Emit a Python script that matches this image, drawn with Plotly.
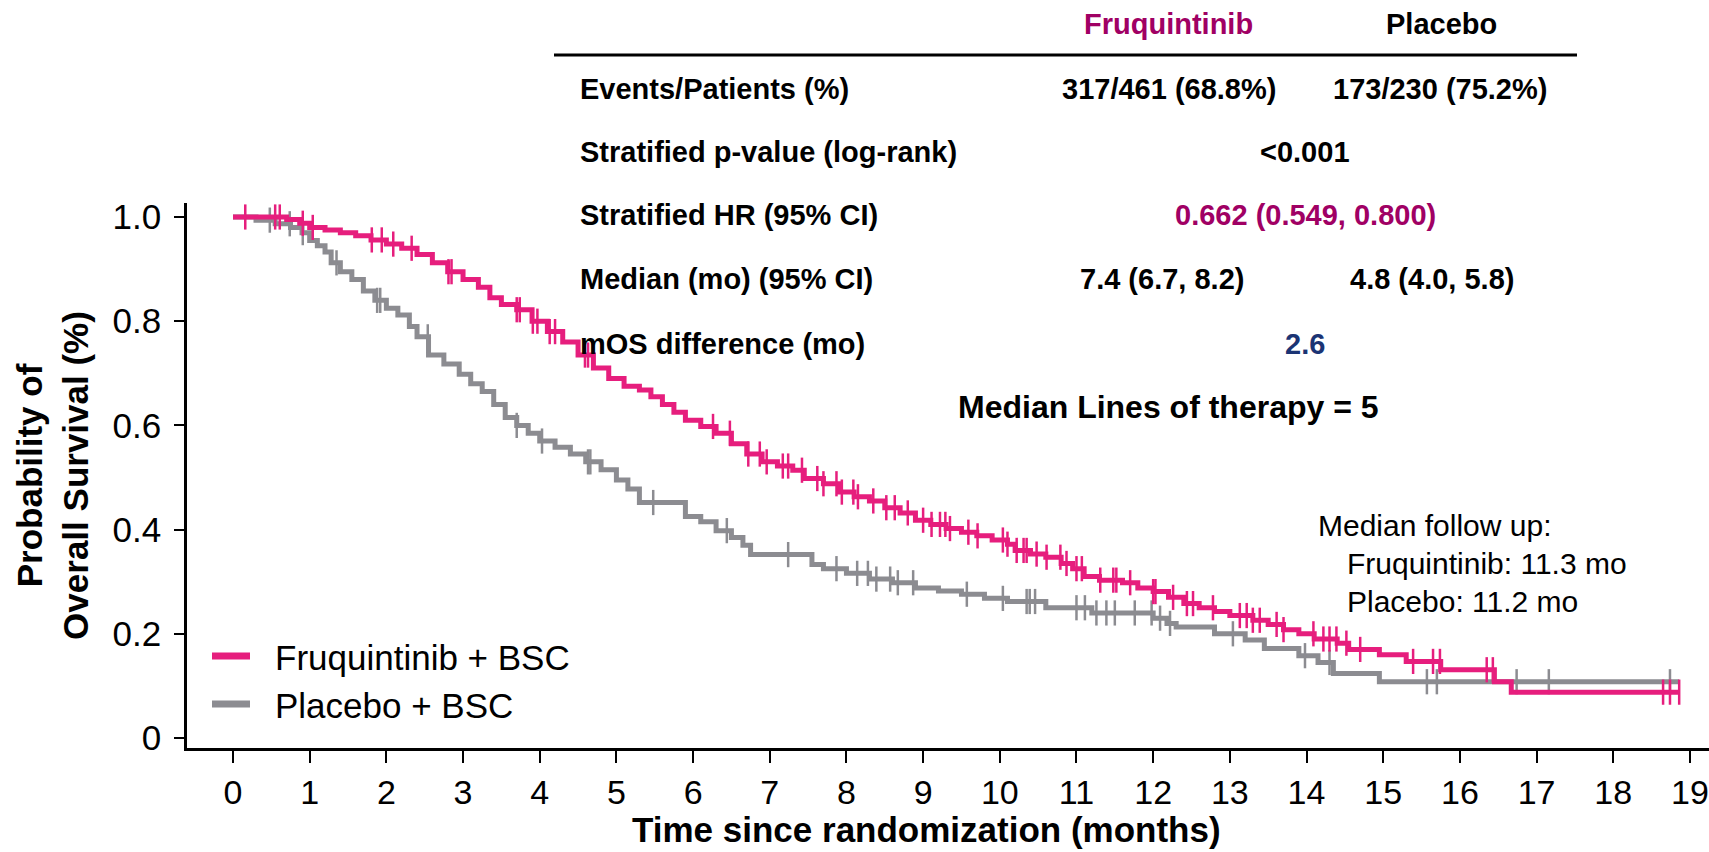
import numpy as np
import plotly.graph_objects as go

# ---------------- data ----------------
fru_t = [0, 0.7, 0.87, 1.0, 1.2, 1.4, 1.6, 1.8, 2.0, 2.2, 2.4, 2.6, 2.8, 3.0, 3.2, 3.35, 3.5, 3.7,
         3.9, 4.1, 4.3, 4.5, 4.7, 4.9, 5.1, 5.3, 5.45, 5.6, 5.75, 5.9, 6.1, 6.3, 6.5, 6.7, 6.9, 7.1,
         7.3, 7.45, 7.7, 7.9, 8.1, 8.3, 8.5, 8.7, 8.9, 9.1, 9.3, 9.5, 9.7, 9.9, 10.1, 10.2, 10.4,
         10.6, 10.8, 10.95, 11.1, 11.3, 11.6, 11.8, 12.0, 12.2, 12.4, 12.6, 12.8, 13.0, 13.3, 13.5,
         13.7, 13.9, 14.1, 14.4, 14.55, 14.95, 15.3, 15.75, 16.45, 16.67]
fru_s = [1.0, 0.995, 0.988, 0.98, 0.975, 0.97, 0.964, 0.956, 0.948, 0.94, 0.928, 0.912, 0.895,
         0.88, 0.865, 0.845, 0.832, 0.822, 0.80, 0.78, 0.76, 0.735, 0.71, 0.69, 0.675, 0.668, 0.655,
         0.64, 0.625, 0.61, 0.598, 0.585, 0.565, 0.545, 0.53, 0.522, 0.514, 0.498, 0.488, 0.472,
         0.463, 0.455, 0.442, 0.432, 0.418, 0.41, 0.402, 0.395, 0.388, 0.38, 0.372, 0.36, 0.353,
         0.347, 0.335, 0.325, 0.31, 0.303, 0.298, 0.288, 0.281, 0.27, 0.258, 0.25, 0.243, 0.235,
         0.226, 0.218, 0.208, 0.2, 0.19, 0.182, 0.17, 0.16, 0.147, 0.131, 0.108, 0.088]
fru_end = 18.86
fru_cens = [0.16, 0.55, 0.61, 0.91, 1.04, 1.81, 1.94, 2.09, 2.33, 2.81, 2.85, 3.7, 3.74, 3.91, 3.97,
            4.13, 4.2, 4.59, 4.63, 6.26, 6.48, 6.72, 6.87, 6.96, 7.17, 7.24, 7.42, 7.62, 7.7, 7.87,
            7.94, 8.09, 8.15, 8.35, 8.52, 8.63, 8.8, 9.0, 9.11, 9.22, 9.29, 9.35, 9.59, 9.71, 10.04,
            10.1, 10.22, 10.31, 10.35, 10.48, 10.61, 10.79, 10.87, 11.0, 11.07, 11.31, 11.48, 11.52,
            11.7, 12.0, 12.03, 12.26, 12.44, 12.52, 12.78, 13.13, 13.22, 13.3, 13.39, 13.61, 13.7,
            14.09, 14.22, 14.3, 14.39, 14.52, 14.7, 15.39, 15.65, 15.74, 16.35, 16.43, 18.65, 18.74,
            18.86]

pla_t = [0, 0.3, 0.55, 0.75, 0.9, 1.0, 1.1, 1.2, 1.28, 1.4, 1.55, 1.7, 1.85, 2.0, 2.15, 2.3, 2.4,
         2.55, 2.75, 2.95, 3.1, 3.25, 3.4, 3.55, 3.7, 3.85, 4.0, 4.2, 4.4, 4.6, 4.8, 5.0, 5.15, 5.3,
         5.9, 6.1, 6.3, 6.5, 6.65, 6.75, 7.55, 7.7, 8.0, 8.3, 8.6, 8.9, 9.2, 9.5, 9.8, 10.1, 10.6,
         11.2, 12.0, 12.18, 12.3, 12.8, 13.2, 13.45, 13.9, 14.15, 14.35, 14.95]
pla_s = [1.0, 0.994, 0.987, 0.98, 0.97, 0.955, 0.945, 0.933, 0.912, 0.895, 0.88, 0.858, 0.84,
         0.825, 0.812, 0.79, 0.77, 0.735, 0.718, 0.698, 0.68, 0.665, 0.64, 0.615, 0.6, 0.585, 0.57,
         0.558, 0.545, 0.53, 0.515, 0.495, 0.478, 0.452, 0.425, 0.415, 0.398, 0.385, 0.37, 0.352,
         0.333, 0.325, 0.316, 0.305, 0.298, 0.288, 0.282, 0.276, 0.268, 0.262, 0.25, 0.24, 0.23,
         0.22, 0.213, 0.2, 0.188, 0.172, 0.158, 0.145, 0.124, 0.108]
pla_end = 18.86
pla_cens = [0.48, 0.74, 0.91, 1.35, 1.88, 1.92, 2.54, 3.7, 4.03, 4.63, 4.66, 5.48, 6.44, 7.24,
            7.87, 8.14, 8.28, 8.39, 8.57, 8.67, 8.87, 9.57, 10.04, 10.35, 10.39, 10.46, 11.0, 11.11,
            11.26, 11.39, 11.5, 11.76, 11.98, 12.09, 12.22, 13.04, 13.98, 14.3, 15.57, 15.7, 16.74,
            17.16, 18.74]

x_ticks = list(range(0, 20))
y_ticks = [0, 0.2, 0.4, 0.6, 0.8, 1.0]
y_ticktext = ["0", "0.2", "0.4", "0.6", "0.8", "1.0"]

series_names = ["Fruquintinib + BSC", "Placebo + BSC"]

table_labels = ["Events/Patients (%)", "Stratified p-value (log-rank)", "Stratified HR (95% CI)",
                "Median (mo) (95% CI)", "mOS difference (mo)"]
table_fru = ["317/461 (68.8%)", None, None, "7.4 (6.7, 8.2)", None]
table_pla = ["173/230 (75.2%)", None, None, "4.8 (4.0, 5.8)", None]
table_both = [None, "<0.001", "0.662 (0.549, 0.800)", None, "2.6"]
table_header = ["Fruquintinib", "Placebo"]
lines_note = "Median Lines of therapy = 5"
follow_up = ["Median follow up:", "Fruquintinib: 11.3 mo", "Placebo: 11.2 mo"]
x_title = "Time since randomization (months)"
y_title = "Probability of<br>Overall Survival (%)"

# ---------------- style ----------------
PINK = "#E61E7D"
GRAY = "#8C8C91"
PURPLE = "#A00064"
NAVY = "#1B3474"
FONT = "Arial, Liberation Sans, sans-serif"

W, H = 1709, 852
L, R, T, B = 187, 0, 203, 104
PW, PH = W - L - R, H - T - B


def px_x(X):
    return (X - L) / PW


def px_y(Y):
    return (H - B - Y) / PH


def surv_at(t, s, c):
    t = np.asarray(t)
    s = np.asarray(s)
    idx = np.searchsorted(t, np.asarray(c), side="right") - 1
    return s[idx]


fig = go.Figure()
for t, s, end, cens, col, name in [
    (pla_t, pla_s, pla_end, pla_cens, GRAY, series_names[1]),
    (fru_t, fru_s, fru_end, fru_cens, PINK, series_names[0]),
]:
    fig.add_trace(go.Scatter(x=list(t) + [end], y=list(s) + [s[-1]], mode="lines",
                             line=dict(color=col, width=5, shape="hv"), name=name,
                             showlegend=False, hoverinfo="skip"))
    fig.add_trace(go.Scatter(x=cens, y=surv_at(t, s, cens), mode="markers",
                             marker=dict(symbol="line-ns", size=18,
                                         line=dict(color=col, width=2.5)),
                             showlegend=False, hoverinfo="skip"))

ann = []
shapes = []
TS = 29  # table font size

# table header
hdr_y = 24
ann.append(dict(x=px_x(1168), y=px_y(hdr_y), text="<b>%s</b>" % table_header[0],
                font=dict(size=TS, color=PURPLE, family=FONT)))
ann.append(dict(x=px_x(1441), y=px_y(hdr_y), text="<b>%s</b>" % table_header[1],
                font=dict(size=TS, color="black", family=FONT)))
shapes.append(dict(type="line", xref="paper", yref="paper", x0=px_x(554), x1=px_x(1577),
                   y0=px_y(55), y1=px_y(55), line=dict(color="black", width=3)))

row_y = [89, 152, 215, 279, 344]
fru_x = [1169, None, None, 1162, None]
pla_x = [1440, None, None, 1432, None]
both_col = [None, "black", PURPLE, None, NAVY]
for i, lab in enumerate(table_labels):
    ann.append(dict(x=px_x(578), y=px_y(row_y[i]), text="<b>%s</b>" % lab, xanchor="left",
                    font=dict(size=TS, color="black", family=FONT)))
    if table_fru[i]:
        ann.append(dict(x=px_x(fru_x[i]), y=px_y(row_y[i]), text="<b>%s</b>" % table_fru[i],
                        font=dict(size=TS, color="black", family=FONT)))
    if table_pla[i]:
        ann.append(dict(x=px_x(pla_x[i]), y=px_y(row_y[i]), text="<b>%s</b>" % table_pla[i],
                        font=dict(size=TS, color="black", family=FONT)))
    if table_both[i]:
        ann.append(dict(x=px_x(1305), y=px_y(row_y[i]), text="<b>%s</b>" % table_both[i],
                        font=dict(size=TS, color=both_col[i], family=FONT)))

ann.append(dict(x=px_x(1168), y=px_y(407), text="<b>%s</b>" % lines_note,
                font=dict(size=32, color="black", family=FONT)))

fu_x = [1316, 1345, 1345]
fu_y = [525, 563, 601]
for txt, xx, yy in zip(follow_up, fu_x, fu_y):
    ann.append(dict(x=px_x(xx), y=px_y(yy), text=txt, xanchor="left",
                    font=dict(size=30, color="black", family=FONT)))

# legend (drawn manually for exact placement)
for name, col, yy in [(series_names[0], PINK, 656), (series_names[1], GRAY, 704)]:
    shapes.append(dict(type="line", xref="paper", yref="paper", x0=px_x(212), x1=px_x(250),
                       y0=px_y(yy), y1=px_y(yy), line=dict(color=col, width=7)))
    ann.append(dict(x=px_x(273), y=px_y(yy + 1), text=name, xanchor="left",
                    font=dict(size=35, color="black", family=FONT)))

# x-axis title (slightly left of the plot centre, as in the reference)
ann.append(dict(x=px_x(926), y=px_y(829), text="<b>%s</b>" % x_title,
                font=dict(size=35, color="black", family=FONT)))

for a in ann:
    a.setdefault("xanchor", "center")
    a.update(xref="paper", yref="paper", yanchor="middle", showarrow=False)

x_lo = -46 / 76.68
x_hi = x_lo + PW / 76.68
y_lo = -(748 - 738) / 521.0
y_hi = y_lo + PH / 521.0

fig.update_layout(
    width=W, height=H, margin=dict(l=L, r=R, t=T, b=B, autoexpand=False),
    paper_bgcolor="white", plot_bgcolor="white",
    font=dict(family=FONT, color="black"),
    annotations=ann, shapes=shapes, showlegend=False,
    xaxis=dict(range=[x_lo, x_hi], tickvals=x_ticks, ticks="outside", ticklen=12, tickwidth=2,
               tickcolor="black", showline=True, linecolor="black", linewidth=2.5,
               showgrid=False, zeroline=False, tickfont=dict(size=34, family=FONT)),
    yaxis=dict(range=[y_lo, y_hi], tickvals=y_ticks, ticktext=y_ticktext, ticks="outside",
               ticklen=10, tickwidth=2, tickcolor="black", showline=True, linecolor="black",
               linewidth=2.5, showgrid=False, zeroline=False,
               tickfont=dict(size=35, family=FONT), ticklabelstandoff=6,
               title=dict(text="<b>%s</b>" % y_title,
                          font=dict(size=35, family=FONT), standoff=14)),
)

fig.write_html("out.html")
